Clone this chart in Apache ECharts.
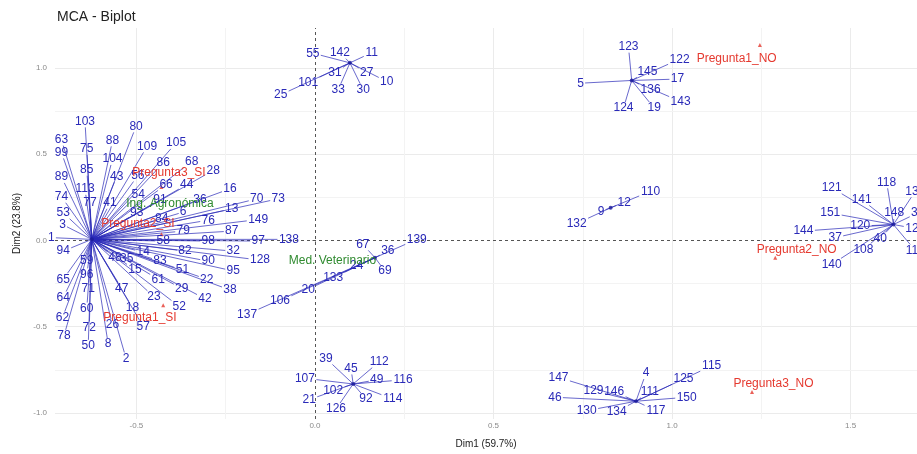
<!DOCTYPE html>
<html>
<head>
<meta charset="utf-8">
<script src="https://cdn.jsdelivr.net/npm/echarts@6/dist/echarts.min.js"></script>
<style>
  html, body { margin: 0; padding: 0; background: #ffffff; }
  #chart { width: 917px; height: 454px; }
</style>
</head>
<body>
<div id="chart"></div>
<script>
// ---- axes ----
const xRange = [-0.728, 1.686];
const yRange = [-1.035, 1.231];
const xTicks = [-0.5, 0, 0.5, 1, 1.5];
const yTicks = [-1, -0.5, 0, 0.5, 1];
const xMinor = [-0.25, 0.25, 0.75, 1.25];
const yMinor = [-0.75, -0.25, 0.25, 0.75];

// ---- individuals: shared coordinate of each group + repelled label positions [id, x, y] ----
const groupLeft = [-0.625, 0.006];
const labelsLeft = [
  ['103', -0.644, 0.690], ['80', -0.501, 0.661], ['63', -0.710, 0.584], ['88', -0.567, 0.580],
  ['109', -0.470, 0.545], ['105', -0.389, 0.565], ['75', -0.639, 0.530], ['99', -0.710, 0.510],
  ['104', -0.567, 0.472], ['86', -0.425, 0.449], ['68', -0.345, 0.458], ['85', -0.639, 0.410],
  ['43', -0.555, 0.372], ['28', -0.285, 0.406], ['89', -0.710, 0.368], ['56', -0.496, 0.376],
  ['66', -0.417, 0.324], ['44', -0.359, 0.324], ['113', -0.644, 0.299], ['16', -0.238, 0.299],
  ['74', -0.710, 0.253], ['54', -0.495, 0.266], ['36', -0.322, 0.237], ['70', -0.163, 0.241],
  ['73', -0.103, 0.241], ['77', -0.630, 0.218], ['41', -0.574, 0.218], ['91', -0.434, 0.237],
  ['53', -0.705, 0.160], ['93', -0.499, 0.160], ['6', -0.369, 0.164], ['13', -0.233, 0.183],
  ['84', -0.429, 0.125], ['76', -0.299, 0.117], ['149', -0.159, 0.121], ['3', -0.707, 0.092],
  ['79', -0.369, 0.054], ['87', -0.233, 0.054], ['1', -0.738, 0.016], ['58', -0.425, -0.004],
  ['98', -0.299, -0.004], ['97', -0.159, -0.004], ['138', -0.073, 0.006], ['94', -0.705, -0.062],
  ['14', -0.481, -0.068], ['82', -0.364, -0.062], ['32', -0.229, -0.062], ['59', -0.639, -0.120],
  ['48', -0.560, -0.100], ['35', -0.527, -0.104], ['83', -0.434, -0.120], ['90', -0.299, -0.120],
  ['128', -0.154, -0.114], ['96', -0.639, -0.197], ['15', -0.504, -0.172], ['51', -0.371, -0.172],
  ['95', -0.229, -0.177], ['65', -0.705, -0.225], ['61', -0.439, -0.225], ['22', -0.303, -0.225],
  ['71', -0.635, -0.279], ['47', -0.541, -0.279], ['29', -0.373, -0.279], ['38', -0.238, -0.287],
  ['64', -0.705, -0.331], ['23', -0.451, -0.327], ['42', -0.308, -0.338], ['60', -0.639, -0.395],
  ['18', -0.511, -0.389], ['52', -0.380, -0.383], ['62', -0.707, -0.447], ['72', -0.632, -0.505],
  ['26', -0.567, -0.491], ['57', -0.481, -0.499], ['78', -0.703, -0.553], ['50', -0.635, -0.611],
  ['8', -0.579, -0.601], ['2', -0.529, -0.684]
];

const groupTopMid = [0.098, 1.029];
const labelsTopMid = [
  ['55', -0.006, 1.085], ['142', 0.070, 1.088], ['11', 0.159, 1.088], ['31', 0.056, 0.973],
  ['27', 0.145, 0.973], ['101', -0.019, 0.915], ['10', 0.201, 0.921], ['25', -0.096, 0.844],
  ['33', 0.065, 0.873], ['30', 0.135, 0.873]
];

const groupTopRight = [0.887, 0.927];
const labelsTopRight = [
  ['123', 0.878, 1.123], ['122', 1.021, 1.050], ['145', 0.931, 0.979], ['17', 1.015, 0.935],
  ['5', 0.744, 0.911], ['136', 0.940, 0.873], ['143', 1.024, 0.805], ['124', 0.864, 0.767],
  ['19', 0.950, 0.767]
];

const groupMidRight = [0.828, 0.189];
const labelsMidRight = [
  ['110', 0.940, 0.285], ['12', 0.866, 0.221], ['9', 0.801, 0.169], ['132', 0.733, 0.098]
];

const groupFarRight = [1.620, 0.092];
const labelsFarRight = [
  ['121', 1.447, 0.305], ['118', 1.601, 0.337], ['131', 1.681, 0.285], ['141', 1.531, 0.237],
  ['148', 1.622, 0.159], ['34', 1.688, 0.159], ['151', 1.443, 0.159], ['120', 1.527, 0.083],
  ['127', 1.681, 0.069], ['144', 1.368, 0.054], ['37', 1.457, 0.016], ['40', 1.583, 0.012],
  ['119', 1.681, -0.058], ['108', 1.536, -0.052], ['140', 1.447, -0.139]
];

const groupBottomMid = [0.107, -0.832];
const labelsBottomMid = [
  ['39', 0.031, -0.684], ['45', 0.101, -0.742], ['112', 0.180, -0.703], ['107', -0.028, -0.799],
  ['49', 0.173, -0.808], ['116', 0.247, -0.808], ['21', -0.016, -0.923], ['102', 0.051, -0.871],
  ['92', 0.143, -0.919], ['114', 0.218, -0.919], ['126', 0.059, -0.977]
];

const groupBottomRight = [0.899, -0.932];
const labelsBottomRight = [
  ['147', 0.682, -0.794], ['4', 0.927, -0.769], ['115', 1.111, -0.727], ['125', 1.032, -0.803],
  ['129', 0.780, -0.871], ['146', 0.838, -0.877], ['111', 0.938, -0.877], ['46', 0.672, -0.909],
  ['150', 1.041, -0.909], ['130', 0.761, -0.987], ['134', 0.845, -0.992], ['117', 0.955, -0.987]
];

const groupVet = [0.168, -0.100];
const labelsVet = [
  ['67', 0.134, -0.023], ['36', 0.204, -0.062], ['139', 0.285, 0.006], ['24', 0.117, -0.149],
  ['69', 0.196, -0.177], ['133', 0.051, -0.216], ['20', -0.019, -0.283], ['106', -0.098, -0.351],
  ['137', -0.190, -0.428]
];

// ---- active variable categories ----
const catNames = ['Pregunta1_NO', 'Pregunta1_SI', 'Pregunta2_NO', 'Pregunta2_SI', 'Pregunta3_NO', 'Pregunta3_SI'];
const catPoints = [[1.246, 1.133], [-0.425, -0.376], [1.289, -0.100], [-0.430, 0.035], [1.224, -0.879], [-0.430, 0.310]];
const catLabels = [[1.181, 1.056], [-0.490, -0.447], [1.349, -0.052], [-0.496, 0.098], [1.284, -0.832], [-0.409, 0.391]];

// ---- supplementary categories ----
const suppNames = ['Ing. Agronómica', 'Med. Veterinario'];
const suppLabels = [[-0.406, 0.214], [0.049, -0.116]];

const BLUE = '#2a2ab8';
const RED = '#e5392f';
const GREEN = '#2f8a2f';
const FONT = 'Liberation Sans, Arial, sans-serif';

// flatten everything into drawable label items
const items = [];
const groups = [
  [groupLeft, labelsLeft], [groupTopMid, labelsTopMid], [groupTopRight, labelsTopRight],
  [groupMidRight, labelsMidRight], [groupFarRight, labelsFarRight], [groupBottomMid, labelsBottomMid],
  [groupBottomRight, labelsBottomRight], [groupVet, labelsVet]
];
groups.forEach(([pt, labs]) => {
  labs.forEach(([id, lx, ly]) => items.push({ text: id, lx, ly, px: pt[0], py: pt[1], color: BLUE, seg: true }));
});
catNames.forEach((n, i) => items.push({ text: n, lx: catLabels[i][0], ly: catLabels[i][1], px: catPoints[i][0], py: catPoints[i][1], color: RED, seg: false }));
suppNames.forEach((n, i) => items.push({ text: n, lx: suppLabels[i][0], ly: suppLabels[i][1], px: suppLabels[i][0], py: suppLabels[i][1], color: GREEN, seg: false }));

const itemData = items.map((d, i) => [d.lx, d.ly, d.px, d.py, i]);
const FS = 12;

function textHalfWidth(t) { return t.length * FS * 0.29 + 1; }

// leader line from the shared point to the edge of its label box
function renderSegment(params, api) {
  const it = items[api.value(4)];
  if (!it.seg) return null;
  const L = api.coord([api.value(0), api.value(1)]);
  const P = api.coord([api.value(2), api.value(3)]);
  const dx = L[0] - P[0], dy = L[1] - P[1];
  const hw = textHalfWidth(it.text), hh = FS * 0.5;
  const tx = Math.abs(dx) > 1e-6 ? hw / Math.abs(dx) : Infinity;
  const ty = Math.abs(dy) > 1e-6 ? hh / Math.abs(dy) : Infinity;
  const t = 1 - Math.min(tx, ty);
  if (t <= 0 || Math.hypot(dx, dy) * t < 3) return null;
  return {
    type: 'line',
    shape: { x1: P[0], y1: P[1], x2: P[0] + dx * t, y2: P[1] + dy * t },
    style: { stroke: it.color, lineWidth: 1, opacity: 0.7 }
  };
}

function renderLabel(params, api) {
  const it = items[api.value(4)];
  const L = api.coord([api.value(0), api.value(1)]);
  return {
    type: 'text',
    x: L[0], y: L[1],
    style: { text: it.text, fill: it.color, font: FS + 'px ' + FONT, align: 'center', verticalAlign: 'middle' }
  };
}

const groupPoints = groups.map(g => g[0]);

const gridLines = [];
xTicks.forEach(v => { if (v !== 0) gridLines.push({ xAxis: v, lineStyle: { color: '#ebebeb', width: 1, type: 'solid' } }); });
yTicks.forEach(v => { if (v !== 0) gridLines.push({ yAxis: v, lineStyle: { color: '#ebebeb', width: 1, type: 'solid' } }); });
xMinor.forEach(v => gridLines.push({ xAxis: v, lineStyle: { color: '#f3f3f3', width: 1, type: 'solid' } }));
yMinor.forEach(v => gridLines.push({ yAxis: v, lineStyle: { color: '#f3f3f3', width: 1, type: 'solid' } }));

const zeroLines = [
  { xAxis: 0, lineStyle: { color: '#555', width: 1, type: [3, 3] } },
  { yAxis: 0, lineStyle: { color: '#555', width: 1, type: [3, 3] } }
];

const chart = echarts.init(document.getElementById('chart'), null, { renderer: 'canvas' });
chart.setOption({
  animation: false,
  backgroundColor: '#ffffff',
  title: {
    text: 'MCA - Biplot', left: 52, top: 5,
    textStyle: { fontFamily: FONT, fontSize: 14, fontWeight: 'normal', color: '#222' }
  },
  grid: { left: 55, right: 0, top: 28, bottom: 34, containLabel: false },
  xAxis: {
    type: 'value', min: xRange[0], max: xRange[1],
    name: 'Dim1 (59.7%)', nameLocation: 'middle', nameGap: 20,
    nameTextStyle: { fontFamily: FONT, fontSize: 10, color: '#222' },
    axisLine: { show: false },
    axisTick: { show: true, length: 3, lineStyle: { color: '#aaa' }, customValues: xTicks },
    axisLabel: { customValues: xTicks, formatter: v => v.toFixed(1), fontFamily: FONT, fontSize: 8, color: '#8a8a8a', margin: 3 },
    splitLine: { show: false }
  },
  yAxis: {
    type: 'value', min: yRange[0], max: yRange[1],
    name: 'Dim2 (23.8%)', nameLocation: 'middle', nameGap: 32, nameRotate: 90,
    nameTextStyle: { fontFamily: FONT, fontSize: 10, color: '#222' },
    axisLine: { show: false },
    axisTick: { show: true, length: 3, lineStyle: { color: '#aaa' }, customValues: yTicks },
    axisLabel: { customValues: yTicks, formatter: v => v.toFixed(1), fontFamily: FONT, fontSize: 8, color: '#8a8a8a', margin: 8 },
    splitLine: { show: false }
  },
  series: [
    {
      type: 'line', data: [], z: 1, silent: true,
      markLine: { silent: true, symbol: ['none', 'none'], label: { show: false }, z: 1, data: gridLines, animation: false }
    },
    {
      type: 'line', data: [], z: 2, silent: true,
      markLine: { silent: true, symbol: ['none', 'none'], label: { show: false }, z: 2, data: zeroLines, animation: false }
    },
    { type: 'custom', renderItem: renderSegment, data: itemData, z: 5, clip: false, silent: true },
    {
      type: 'scatter', data: groupPoints, symbol: 'circle', symbolSize: 4, z: 6, silent: true,
      itemStyle: { color: '#1c1c9a' }
    },
    {
      type: 'scatter', data: catPoints, symbol: 'triangle', symbolSize: 4, z: 6, silent: true,
      itemStyle: { color: RED }
    },
    { type: 'custom', renderItem: renderLabel, data: itemData, z: 7, clip: false, silent: true }
  ]
});
</script>
</body>
</html>
